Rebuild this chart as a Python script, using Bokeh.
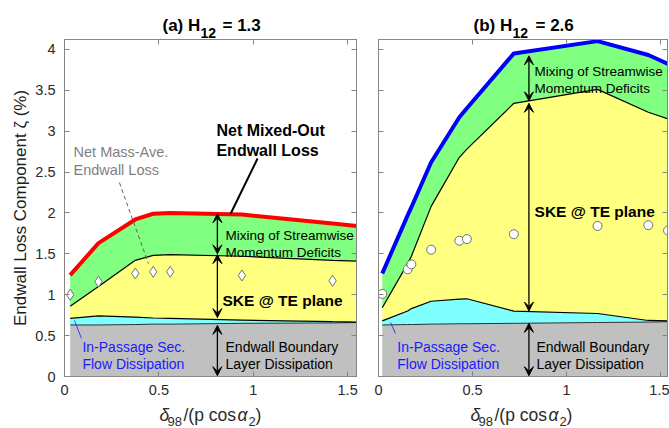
from bokeh.plotting import figure
from bokeh.layouts import row, column
from bokeh.models import Label, Arrow, VeeHead, LinearAxis, FixedTicker
from bokeh.embed import file_html
from bokeh.resources import INLINE

# ---- data: panel (a) H12 = 1.3 ----
xa = [0.03, 0.18, 0.375, 0.47, 0.56, 0.94, 1.42, 1.55]
mixed_a = [1.24, 1.63, 1.92, 1.99, 2.00, 1.98, 1.87, 1.84]
ske_top_a = [0.86, 1.10, 1.42, 1.48, 1.49, 1.47, 1.42, 1.41]
sec_top_a = [0.71, 0.74, 0.725, 0.715, 0.71, 0.69, 0.67, 0.665]
bl_top_a = [0.63, 0.63, 0.635, 0.64, 0.64, 0.65, 0.655, 0.66]
mass_x_a = [0.03, 0.18, 0.375, 0.47, 0.56, 0.94, 1.42]
mass_a = [1.00, 1.16, 1.26, 1.28, 1.28, 1.235, 1.17]

# ---- data: panel (b) H12 = 2.6 ----
xb = [0.02, 0.155, 0.175, 0.28, 0.43, 0.47, 0.72, 1.165, 1.435, 1.54]
mixed_b = [1.26, 1.97, 2.07, 2.62, 3.17, 3.28, 3.95, 4.10, 3.93, 3.82]
ske_top_b = [0.84, 1.38, 1.47, 2.08, 2.68, 2.78, 3.34, 3.51, 3.23, 3.15]
sec_top_b = [0.68, 0.80, 0.83, 0.92, 0.945, 0.95, 0.80, 0.77, 0.685, 0.68]
bl_top_b = [0.63, 0.635, 0.635, 0.64, 0.645, 0.645, 0.65, 0.66, 0.665, 0.67]
mass_b = [1.01, 1.31, 1.37, 1.55, 1.66, 1.68, 1.74, 1.84, 1.85, 1.785]

x_ticks = [0, 0.5, 1, 1.5]
y_ticks = [0, 0.5, 1, 1.5, 2, 2.5, 3, 3.5, 4]

FONT = "Liberation Sans"
AX = "#858585"
TXT = "#2a2a2a"
W, TOP_H, BOT_H = 669, 39, 24


def put(p, x, y, text, size, color="black", bold=False, italic=False):
    style = "bold" if bold else ("italic" if italic else "normal")
    p.add_layout(Label(x=x, y=y, text=text, text_font=FONT,
                       text_font_size=f"{size}px", text_color=color,
                       text_font_style=style, text_align="left",
                       text_baseline="alphabetic"))


def strip(h):
    # plain pixel-space canvas for titles and axis captions
    s = figure(width=W, height=h, x_range=(0, W), y_range=(0, h), title=None,
               output_backend="svg", toolbar_location=None,
               x_axis_location=None, y_axis_location=None, min_border=0)
    s.grid.visible = False
    s.outline_line_color = None
    s.background_fill_color = "white"
    s.border_fill_color = "white"
    return s


def make_panel(x_end, left_border, right_border, frame_w, show_ylabels):
    p = figure(frame_width=frame_w, frame_height=337,
               x_range=(0, x_end), y_range=(0, 4.12), title=None,
               output_backend="svg", toolbar_location=None,
               min_border_left=left_border, min_border_right=right_border,
               min_border_top=0, min_border_bottom=428 - TOP_H - BOT_H - 337)
    p.grid.visible = False
    p.outline_line_color = AX
    p.background_fill_color = "white"
    p.border_fill_color = "white"
    for ax in (p.xaxis[0], p.yaxis[0]):
        ax.axis_line_color = AX
        ax.major_tick_line_color = AX
        ax.major_tick_in = 5
        ax.major_tick_out = 0
        ax.minor_tick_line_color = None
        ax.major_label_text_font = FONT
        ax.major_label_text_font_size = "14.5px"
        ax.major_label_text_color = TXT
    p.xaxis.ticker = FixedTicker(ticks=x_ticks)
    p.yaxis.ticker = FixedTicker(ticks=y_ticks)
    p.xaxis.major_label_overrides = {0: "0", 1: "1"}
    p.xaxis.major_label_standoff = 8
    p.yaxis.major_label_overrides = {0: "0", 1: "1", 2: "2", 3: "3", 4: "4"}
    if show_ylabels:
        p.yaxis.major_label_standoff = 9
        p.yaxis.axis_label = "Endwall Loss Component \u03b6 (%)"
        p.yaxis.axis_label_text_font = FONT
        p.yaxis.axis_label_text_font_size = "17px"
        p.yaxis.axis_label_text_font_style = "normal"
        p.yaxis.axis_label_text_color = "#202020"
        p.yaxis.axis_label_standoff = 2
    else:
        p.yaxis.major_label_text_font_size = "0px"
        p.yaxis.major_label_standoff = 0
    # mirrored tick-only axes on the right and top
    for side, ticks in (("right", y_ticks), ("above", x_ticks)):
        a = LinearAxis(ticker=FixedTicker(ticks=ticks),
                       major_label_text_font_size="0px", major_label_standoff=0,
                       major_tick_in=5, major_tick_out=0,
                       minor_tick_line_color=None,
                       axis_line_color=AX, major_tick_line_color=AX)
        p.add_layout(a, side)
    return p


def stack(p, x, bl, sec, ske, mixed, top_color):
    p.varea(x=x, y1=[0] * len(x), y2=bl, fill_color="#c0c0c0")
    p.varea(x=x, y1=bl, y2=sec, fill_color="#80ffff")
    p.varea(x=x, y1=sec, y2=ske, fill_color="#ffff80")
    p.varea(x=x, y1=ske, y2=mixed, fill_color="#80ff80")
    p.line(x, bl, line_color="#303030", line_width=1)
    p.line(x, sec, line_color="black", line_width=1.2)
    p.line(x, ske, line_color="black", line_width=1.2)
    p.line(x, mixed, line_color=top_color, line_width=4)


def darrow(p, x, y0, y1):
    p.add_layout(Arrow(x_start=x, y_start=y0, x_end=x, y_end=y1,
                       line_color="black", line_width=1.3,
                       start=VeeHead(size=9, fill_color="black", line_color="black", line_width=1),
                       end=VeeHead(size=9, fill_color="black", line_color="black", line_width=1)))


# ---------------- panel (a) ----------------
pa = make_panel(1.547, 64, 10, 292, True)
stack(pa, xa, bl_top_a, sec_top_a, ske_top_a, mixed_a, "#ff0000")
pa.scatter(mass_x_a, mass_a, marker="diamond", size=11, fill_color="white",
           line_color="#707070", line_width=1)

put(pa, 0.805, 3.01, "Net Mixed-Out", 16, bold=True)
put(pa, 0.805, 2.765, "Endwall Loss", 16, bold=True)
pa.line([1.023, 0.88], [2.665, 1.99], line_color="black", line_width=2)

put(pa, 0.048, 2.74, "Net Mass-Ave.", 14.5, "#7f7f7f")
put(pa, 0.048, 2.52, "Endwall Loss", 14.5, "#7f7f7f")
pa.line([0.291, 0.445], [2.37, 1.38], line_color="#606060", line_width=1, line_dash="4 3")

darrow(pa, 0.81, 1.99, 1.50)
darrow(pa, 0.81, 1.49, 0.72)
darrow(pa, 0.81, 0.625, 0.01)
put(pa, 0.853, 1.72, "Mixing of Streamwise", 13.5)
put(pa, 0.853, 1.515, "Momentum Deficits", 13.5)
put(pa, 0.837, 0.93, "SKE @ TE plane", 15.5, bold=True)
put(pa, 0.853, 0.355, "Endwall Boundary", 14)
put(pa, 0.853, 0.147, "Layer Dissipation", 14)
put(pa, 0.095, 0.355, "In-Passage Sec.", 14, "#1a1aff")
put(pa, 0.095, 0.147, "Flow Dissipation", 14, "#1a1aff")
pa.line([0.053, 0.09], [0.685, 0.465], line_color="#1a1aff", line_width=0.8)

# ---------------- panel (b) ----------------
pb = make_panel(1.537, 12, 2, 289, False)
stack(pb, xb, bl_top_b, sec_top_b, ske_top_b, mixed_b, "#0000ff")
pb.scatter(xb, mass_b, marker="circle", size=9, fill_color="white",
           line_color="#707070", line_width=1)

darrow(pb, 0.80, 3.92, 3.37)
darrow(pb, 0.80, 3.34, 0.80)
darrow(pb, 0.80, 0.65, 0.01)
put(pb, 0.83, 3.73, "Mixing of Streamwise", 13.5)
put(pb, 0.83, 3.525, "Momentum Deficits", 13.5)
put(pb, 0.83, 2.02, "SKE @ TE plane", 15.5, bold=True)
put(pb, 0.84, 0.355, "Endwall Boundary", 14)
put(pb, 0.84, 0.147, "Layer Dissipation", 14)
put(pb, 0.10, 0.355, "In-Passage Sec.", 14, "#1a1aff")
put(pb, 0.10, 0.147, "Flow Dissipation", 14, "#1a1aff")
pb.line([0.064, 0.09], [0.66, 0.525], line_color="#1a1aff", line_width=0.8)

# ---------------- panel titles (with subscripts) ----------------
top = strip(TOP_H)
for x0, tag in ((162, "(a) H"), (473, "(b) H")):
    put(top, x0, 14, tag, 17, bold=True)
put(top, 200, 7, "12", 14, bold=True)
put(top, 222, 14, "= 1.3", 17, bold=True)
put(top, 512, 7, "12", 14, bold=True)
put(top, 535, 14, "= 2.6", 17, bold=True)

# ---------------- x-axis captions: delta_98/(p cos alpha_2) ----------------
bot = strip(BOT_H)
for dx in (0, 311):
    put(bot, 159 + dx, 14, "\u03b4", 17.5, TXT, italic=True)
    put(bot, 167 + dx, 7, "98", 13, TXT)
    put(bot, 183 + dx, 14, "/(p cos", 17.5, TXT)
    put(bot, 237 + dx, 14, "\u03b1", 17.5, TXT, italic=True)
    put(bot, 248 + dx, 7, "2", 13, TXT)
    put(bot, 255 + dx, 14, ")", 17.5, TXT)

layout = column(top, row(pa, pb), bot)
open("out.html", "w").write(file_html(layout, INLINE))
